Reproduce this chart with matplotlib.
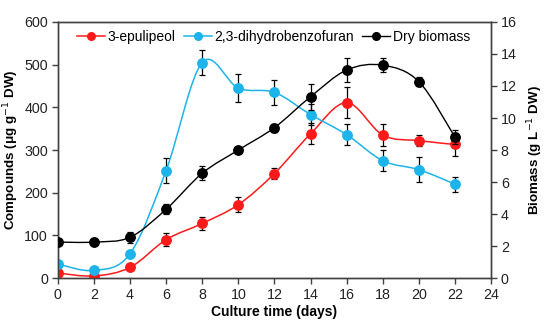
import numpy as np
import matplotlib
matplotlib.use("Agg")
import matplotlib.pyplot as plt
from matplotlib.path import Path
from matplotlib.patches import PathPatch
from matplotlib.lines import Line2D

plt.rcParams['font.family'] = ['Liberation Sans', 'DejaVu Sans']

days = [0, 2, 4, 6, 8, 10, 12, 14, 16, 18, 20, 22]
epulipeol = [12, 5, 25, 90, 128, 172, 245, 338, 411, 335, 322, 313]
epulipeol_err = [6, 3, 4, 15, 15, 17, 12, 25, 36, 26, 13, 27]
dihydro = [33, 18, 57, 252, 505, 445, 435, 383, 336, 275, 254, 220]
dihydro_err = [4, 3, 4, 30, 30, 32, 30, 25, 25, 25, 30, 18]
biomass = [2.25, 2.25, 2.55, 4.3, 6.55, 8.0, 9.4, 11.33, 13.0, 13.3, 12.27, 8.8]
biomass_err = [0.1, 0.1, 0.35, 0.3, 0.45, 0.2, 0.25, 0.8, 0.75, 0.45, 0.3, 0.45]

RED = '#FF1A1A'
BLUE = '#1CB4EA'
BLACK = '#000000'


def smooth_path(x, y):
    x = np.asarray(x, float)
    y = np.asarray(y, float)
    pts = np.column_stack([x, y])
    n = len(pts)
    verts = [pts[0]]
    codes = [Path.MOVETO]
    for i in range(n - 1):
        p0 = pts[i - 1] if i > 0 else pts[i]
        p1 = pts[i]
        p2 = pts[i + 1]
        p3 = pts[i + 2] if i + 2 < n else pts[i + 1]
        c1 = p1 + (p2 - p0) / 6.0
        c2 = p2 - (p3 - p1) / 6.0
        verts += [c1, c2, p2]
        codes += [Path.CURVE4] * 3
    return Path(verts, codes)


fig = plt.figure(figsize=(5.5, 3.23), dpi=100)
ax = fig.add_axes([0.105, 0.139, 0.788, 0.793])
ax2 = ax.twinx()

for yv, err, col in [(epulipeol, epulipeol_err, RED), (dihydro, dihydro_err, BLUE)]:
    ax.add_patch(PathPatch(smooth_path(days, yv), fill=False, edgecolor=col, lw=1.1, zorder=2))
    ax.errorbar(days, yv, yerr=err, fmt='none', ecolor='black', elinewidth=0.9, capsize=2.5, capthick=0.9, zorder=3)
    ax.plot(days, yv, 'o', color=col, ms=6.8, zorder=4)

ax2.add_patch(PathPatch(smooth_path(days, biomass), fill=False, edgecolor=BLACK, lw=1.0, zorder=2))
ax2.errorbar(days, biomass, yerr=biomass_err, fmt='none', ecolor='black', elinewidth=0.9, capsize=2.5, capthick=0.9, zorder=3)
ax2.plot(days, biomass, 'o', color=BLACK, ms=6.8, zorder=4)

ax.set_xlim(0, 24)
ax.set_ylim(0, 600)
ax2.set_ylim(0, 16)
ax.set_xticks(range(0, 25, 2))
ax.set_yticks(range(0, 601, 100))
ax2.set_yticks(range(0, 17, 2))

spine_col = '#404040'
for a in (ax, ax2):
    for s in a.spines.values():
        s.set_color(spine_col)
        s.set_linewidth(1.0)
    a.tick_params(direction='out', length=4, width=1.0, color=spine_col, labelsize=10.3,
                  labelcolor='#222222', pad=3)

ax.set_xlabel('Culture time (days)', fontsize=10, fontweight='bold', labelpad=2)
ax.set_ylabel('Compounds (μg g$^{-1}$ DW)', fontsize=9.6, fontweight='bold', labelpad=2)
ax2.set_ylabel('Biomass (g L$^{-1}$ DW)', fontsize=9.6, fontweight='bold', labelpad=6)

handles = [
    Line2D([], [], color=RED, marker='o', ms=5.5, lw=1.1),
    Line2D([], [], color=BLUE, marker='o', ms=5.5, lw=1.1),
    Line2D([], [], color=BLACK, marker='o', ms=5.5, lw=1.0),
]
ax2.legend(handles, ['3-epulipeol', '2,3-dihydrobenzofuran', 'Dry biomass'], loc='upper left',
           bbox_to_anchor=(0.025, 1.0), ncol=3, frameon=False, fontsize=10,
           handlelength=2.0, handletextpad=0.2, columnspacing=0.6, borderaxespad=0.3,
           borderpad=0.3)

fig.savefig('out.png', dpi=100)
